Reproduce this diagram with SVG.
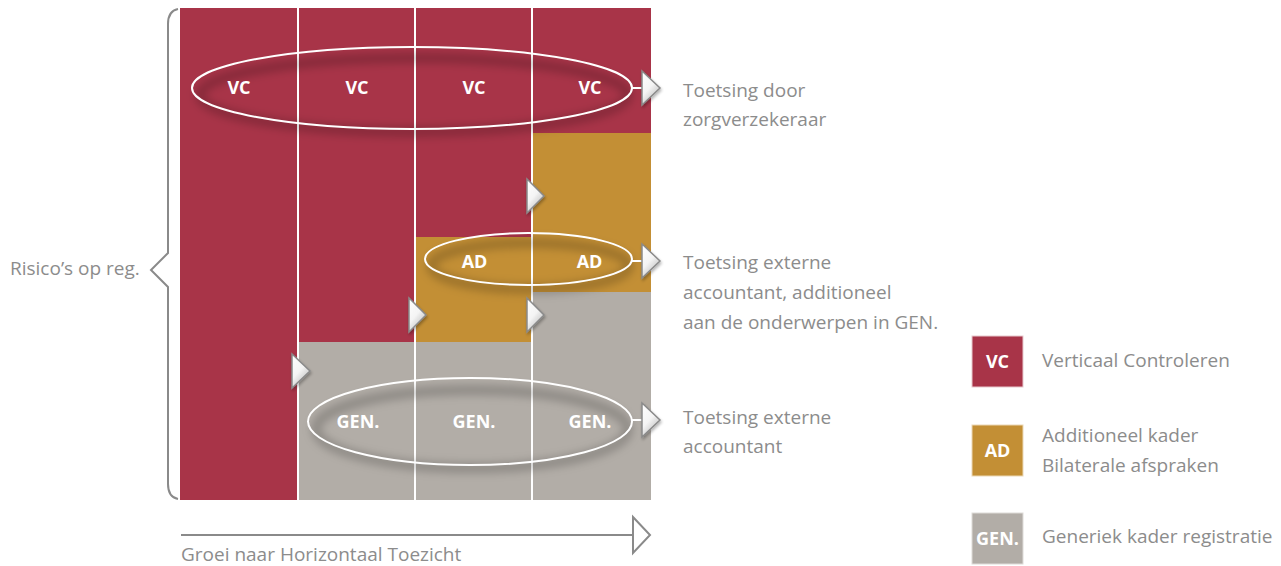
<svg xmlns="http://www.w3.org/2000/svg" width="1281" height="566" viewBox="0 0 1281 566">
<style>
.red{fill:#A83448}
.gold{fill:#C38F35}
.grey{fill:#B2ADA7}
.div{stroke:#FFFFFF;stroke-width:2}
.ell{fill:none;stroke:#FFFFFF;stroke-width:2}
.shd{fill:none;stroke:#000000;stroke-opacity:0.2;stroke-width:10;filter:url(#blur)}
.in{font-family:"Open Sans","Liberation Sans",sans-serif;font-weight:bold;font-size:18px;fill:#FFFFFF;text-anchor:middle}
.lbl{font-family:"Open Sans","Liberation Sans",sans-serif;font-size:19px;fill:#8C8C8C}
.tri{fill:url(#tg);stroke:#8A8A8A;stroke-width:1.5;stroke-linejoin:miter;filter:url(#ds)}
.wl{stroke:#FFFFFF;stroke-width:2}
.gl{stroke:#8A8A8A;stroke-width:2;fill:none}
</style>
<defs>
<filter id="blur" x="-20%" y="-50%" width="140%" height="200%"><feGaussianBlur stdDeviation="4.5"/></filter>
<filter id="ds" x="-50%" y="-50%" width="200%" height="200%"><feGaussianBlur in="SourceAlpha" stdDeviation="1.5"/><feOffset dx="1" dy="2" result="o"/><feComponentTransfer><feFuncA type="linear" slope="0.3"/></feComponentTransfer><feMerge><feMergeNode/><feMergeNode in="SourceGraphic"/></feMerge></filter>
<linearGradient id="tg" x1="0" y1="0" x2="0.6" y2="1"><stop offset="0" stop-color="#FFFFFF"/><stop offset="0.55" stop-color="#F4F4F4"/><stop offset="1" stop-color="#BDBDBD"/></linearGradient>
</defs>

<g id="grid">
<rect class="red" x="180" y="8" width="471" height="492"/>
<rect class="gold" x="532" y="133" width="119" height="159"/>
<rect class="gold" x="415" y="237" width="117" height="105"/>
<rect class="grey" x="532" y="292" width="119" height="208"/>
<rect class="grey" x="298" y="342" width="234" height="158"/>
<line class="div" x1="298" y1="8" x2="298" y2="500"/>
<line class="div" x1="415" y1="8" x2="415" y2="500"/>
<line class="div" x1="532" y1="8" x2="532" y2="500"/>
</g>

<g id="node-vc">
<ellipse class="shd" cx="414" cy="95" rx="214" ry="37"/>
<ellipse class="ell" cx="412" cy="88" rx="220" ry="41"/>
<text class="in" x="239" y="94">VC</text>
<text class="in" x="357" y="94">VC</text>
<text class="in" x="474" y="94">VC</text>
<text class="in" x="590" y="94">VC</text>
</g>

<g id="node-ad">
<ellipse class="shd" cx="530" cy="266" rx="99" ry="23"/>
<ellipse class="ell" cx="528.5" cy="259" rx="103.5" ry="26"/>
<text class="in" x="474.5" y="268">AD</text>
<text class="in" x="589.5" y="268">AD</text>
</g>

<g id="node-gen">
<ellipse class="shd" cx="472" cy="429" rx="156" ry="39"/>
<ellipse class="ell" cx="470" cy="421.5" rx="162" ry="43.5"/>
<text class="in" x="358" y="428">GEN.</text>
<text class="in" x="474" y="428">GEN.</text>
<text class="in" x="590" y="428">GEN.</text>
</g>

<g id="connectors">
<line class="wl" x1="632" y1="88" x2="643" y2="88"/>
<line class="wl" x1="632" y1="261" x2="643" y2="261"/>
<line class="wl" x1="632" y1="420" x2="643" y2="420"/>
<polygon class="tri" points="642,71 660,88 642,105"/>
<polygon class="tri" points="642,244 660,261 642,278"/>
<polygon class="tri" points="642,403 660,420 642,437"/>
<polygon class="tri" points="527,179 544,196 527,213"/>
<polygon class="tri" points="409,298 426,315 409,332"/>
<polygon class="tri" points="527,298 544,315 527,332"/>
<polygon class="tri" points="292,354 310,371 292,388"/>
<path class="gl" d="M178,9 Q168,11 168,24 L168,253 L151,270 L168,287 L168,484 Q168,497 178,499"/>
<line class="gl" x1="181" y1="535" x2="633" y2="535"/>
<polygon points="633,517 650,535 633,553" fill="#FFFFFF" stroke="#8A8A8A" stroke-width="2"/>
</g>

<g id="labels">
<text class="lbl" x="10" y="275">Risico’s op reg.</text>
<text class="lbl" x="683" y="97">Toetsing door</text>
<text class="lbl" x="683" y="126">zorgverzekeraar</text>
<text class="lbl" x="683" y="269">Toetsing externe</text>
<text class="lbl" x="683" y="299">accountant, additioneel</text>
<text class="lbl" x="683" y="329">aan de onderwerpen in GEN.</text>
<text class="lbl" x="683" y="424">Toetsing externe</text>
<text class="lbl" x="683" y="453">accountant</text>
<text class="lbl" x="181" y="561">Groei naar Horizontaal Toezicht</text>
</g>

<g id="legend-vc">
<rect class="red" x="972" y="336" width="51" height="51" stroke="#E8C9CE" stroke-width="1"/>
<text class="in" x="997.5" y="368">VC</text>
<text class="lbl" x="1042" y="367">Verticaal Controleren</text>
</g>
<g id="legend-ad">
<rect class="gold" x="972" y="425" width="51" height="51" stroke="#EBD8B5" stroke-width="1"/>
<text class="in" x="997.5" y="457">AD</text>
<text class="lbl" x="1042" y="442">Additioneel kader</text>
<text class="lbl" x="1042" y="472">Bilaterale afspraken</text>
</g>
<g id="legend-gen">
<rect class="grey" x="972" y="513" width="51" height="51" stroke="#DEDBD8" stroke-width="1"/>
<text class="in" x="997.5" y="545">GEN.</text>
<text class="lbl" x="1042" y="543">Generiek kader registratie</text>
</g>
</svg>
